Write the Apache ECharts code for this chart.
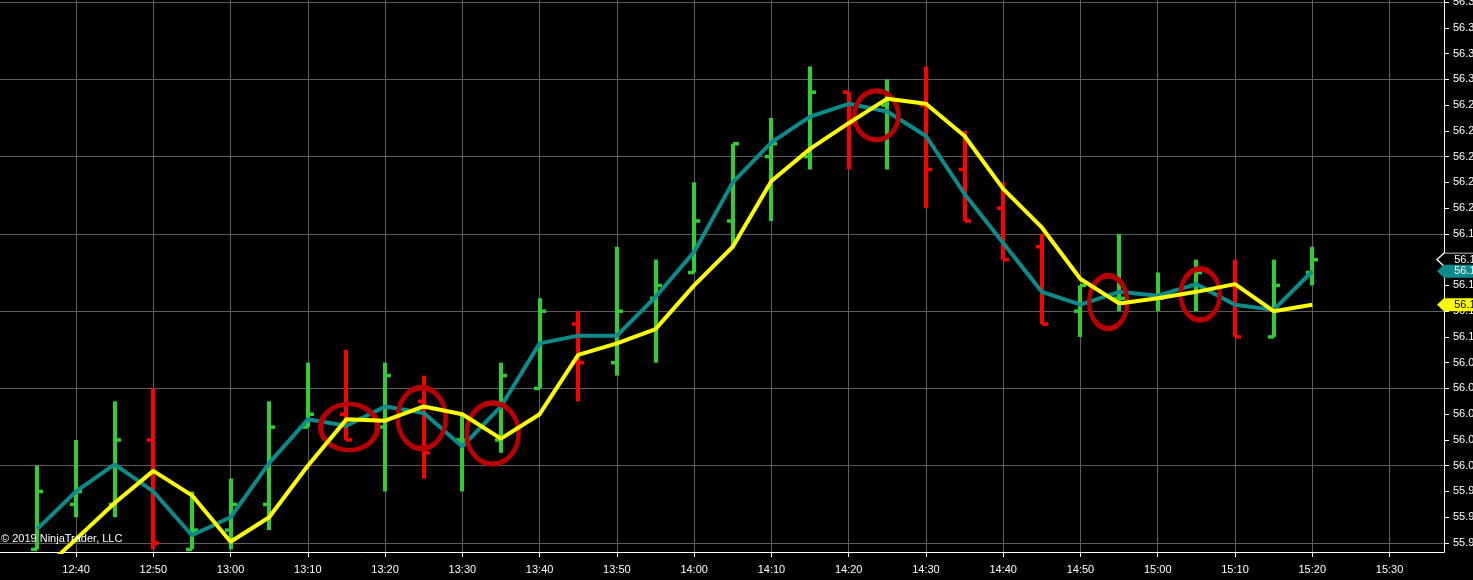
<!DOCTYPE html>
<html>
<head>
<meta charset="utf-8">
<style>
html,body{margin:0;padding:0;background:#000;}
#chart{width:1473px;height:580px;}
</style>
<script src="https://cdn.jsdelivr.net/npm/echarts@6/dist/echarts.min.js"></script>
</head>
<body>
<div id="chart"></div>
<script>
// ---- data ----
const times  = ['12:35','12:40','12:45','12:50','12:55','13:00','13:05','13:10','13:15','13:20','13:25','13:30','13:35','13:40','13:45','13:50','13:55','14:00','14:05','14:10','14:15','14:20','14:25','14:30','14:35','14:40','14:45','14:50','14:55','15:00','15:05','15:10','15:15','15:20'];
const opens  = [55.935,55.97,55.97,56.02,55.935,55.95,55.97,56.03,56.04,56.03,56.05,56.02,56.02,56.06,56.11,56.08,56.13,56.15,56.19,56.24,56.24,56.29,56.28,56.28,56.23,56.20,56.17,56.12,56.13,56.13,56.14,56.14,56.10,56.15];
const highs  = [56.00,56.02,56.05,56.06,55.98,55.99,56.05,56.08,56.09,56.08,56.07,56.04,56.08,56.13,56.12,56.17,56.16,56.22,56.25,56.27,56.31,56.29,56.30,56.31,56.26,56.22,56.18,56.14,56.18,56.15,56.16,56.16,56.16,56.17];
const lows   = [55.935,55.96,55.96,55.935,55.935,55.935,55.95,56.03,56.02,55.98,55.99,55.98,56.01,56.06,56.05,56.07,56.08,56.15,56.17,56.19,56.23,56.23,56.23,56.20,56.19,56.16,56.11,56.10,56.12,56.12,56.12,56.10,56.10,56.14];
const closes = [55.98,55.98,56.02,55.94,55.95,55.97,56.03,56.04,56.02,56.07,56.01,56.02,56.07,56.12,56.08,56.12,56.14,56.19,56.25,56.25,56.29,56.266,56.285,56.23,56.19,56.16,56.11,56.14,56.13,56.13,56.15,56.10,56.14,56.16];
const tealLine   = [55.951,55.980,56.001,55.980,55.946,55.960,56.002,56.036,56.031,56.046,56.041,56.015,56.046,56.095,56.101,56.101,56.131,56.166,56.220,56.251,56.271,56.281,56.275,56.256,56.211,56.173,56.135,56.125,56.135,56.132,56.141,56.125,56.121,56.151];
const yellowLine = [55.915,55.943,55.971,55.996,55.977,55.941,55.960,56.000,56.036,56.035,56.046,56.040,56.021,56.040,56.086,56.095,56.106,56.140,56.170,56.221,56.246,56.266,56.285,56.281,56.256,56.215,56.185,56.145,56.126,56.130,56.135,56.141,56.120,56.125];
const xTickLabels = ['12:40','12:50','13:00','13:10','13:20','13:30','13:40','13:50','14:00','14:10','14:20','14:30','14:40','14:50','15:00','15:10','15:20','15:30'];
const yTickValues = [55.94,55.96,55.98,56.00,56.02,56.04,56.06,56.08,56.10,56.12,56.14,56.16,56.18,56.20,56.22,56.24,56.26,56.28,56.30,56.32,56.34,56.36];
const yGridValues = [55.94,56.00,56.06,56.12,56.18,56.24,56.30,56.36];
// annotation ellipses (centre time in minutes, centre price)
const annoX = [795.34,804.74,813.92,863.59,893.59,905.50];
const annoY = [56.030,56.037,56.025,56.272,56.127,56.133];
const annoSize = [[57,46],[48,61],[52,61],[44,49],[38,53],[39,51]];

// ---- helpers ----
function toMin(s){const p=s.split(':').map(Number);return p[0]*60+p[1];}
function fmt(m){const h=Math.floor(m/60),mm=Math.round(m-h*60);return h+':'+(mm<10?'0':'')+mm;}
const X_MIN = 750.16, X_MAX = 937.05;
const Y_MIN = 55.933, Y_MAX = 56.3616;
const GREEN = '#32cd32', RED = '#ff0000', TEAL = '#0a8c8c', YELLOW = '#ffff00';
const FONT = 'Arial, "Liberation Sans", sans-serif';

const ohlc = times.map((t,i)=>[toMin(t),opens[i],highs[i],lows[i],closes[i]]);
const tealData = times.map((t,i)=>[toMin(t),tealLine[i]]);
const yellowData = times.map((t,i)=>[toMin(t),yellowLine[i]]);
const xTickVals = xTickLabels.map(toMin);
const lastIdx = times.length-1;

const ellipsePath = 'path://M50,0 A50,50 0 1,1 50,100 A50,50 0 1,1 50,0 Z';
const tagPath = 'path://M0,6.5 L7,0 L40,0 L40,13 L7,13 Z';

const chart = echarts.init(document.getElementById('chart'), null, {renderer:'canvas'});
chart.setOption({
  backgroundColor:'#000',
  animation:false,
  grid:{left:0,right:29,top:0,bottom:28,containLabel:false,outerBoundsMode:'none'},
  xAxis:{
    type:'value',min:X_MIN,max:X_MAX,
    axisLine:{show:true,onZero:false,lineStyle:{color:'#ffffff',width:1}},
    axisTick:{show:true,length:5,customValues:xTickVals,lineStyle:{color:'#ffffff'}},
    axisLabel:{show:true,customValues:xTickVals,formatter:v=>fmt(v),color:'#ffffff',fontSize:11,fontFamily:FONT,margin:12},
    splitLine:{show:true,lineStyle:{color:'#5e5e5e',width:1}}
  },
  yAxis:[{
    type:'value',position:'right',min:Y_MIN,max:Y_MAX,scale:true,
    axisLine:{show:true,lineStyle:{color:'#ffffff',width:1}},
    axisTick:{show:true,length:5,customValues:yTickValues,lineStyle:{color:'#ffffff'}},
    axisLabel:{show:true,customValues:yTickValues,formatter:v=>v.toFixed(2),color:'#ffffff',fontSize:11,fontFamily:FONT,margin:9},
    splitLine:{show:false}
  },{
    type:'value',position:'right',min:Y_MIN,max:Y_MAX,scale:true,
    axisLine:{show:false},
    axisTick:{show:false,customValues:yGridValues},
    axisLabel:{show:false,customValues:yGridValues},
    splitLine:{show:true,lineStyle:{color:'#5e5e5e',width:1}}
  }],
  series:[{
    type:'custom',
    name:'bars',
    data:ohlc,
    encode:{x:0,y:[1,2,3,4]},
    z:3,
    renderItem:function(params,api){
      const t=api.value(0),o=api.value(1),h=api.value(2),l=api.value(3),c=api.value(4);
      const pH=api.coord([t,h]),pL=api.coord([t,l]),pO=api.coord([t,o]),pC=api.coord([t,c]);
      const col = c>=o?GREEN:RED;
      const x = Math.round(pH[0]);
      return {type:'group',children:[
        {type:'line',shape:{x1:x,y1:pH[1],x2:x,y2:pL[1]},style:{stroke:col,lineWidth:4}},
        {type:'line',shape:{x1:x-6,y1:pO[1],x2:x,y2:pO[1]},style:{stroke:col,lineWidth:3.5}},
        {type:'line',shape:{x1:x,y1:pC[1],x2:x+6,y2:pC[1]},style:{stroke:col,lineWidth:3.5}}
      ]};
    },
    markPoint:{
      silent:true,
      symbol:tagPath,symbolKeepAspect:false,symbolSize:[40,13],symbolOffset:[13,0],
      data:[{coord:[X_MAX,closes[lastIdx]],value:closes[lastIdx].toFixed(2),
        itemStyle:{color:'#000',borderColor:'#ffffff',borderWidth:1},
        label:{show:true,position:'inside',offset:[11,0],color:'#ffffff',fontSize:11,fontFamily:FONT,formatter:'{c}'}}]
    }
  },{
    type:'line',name:'teal',data:tealData,showSymbol:false,symbol:'none',clip:true,z:4,
    lineStyle:{color:TEAL,width:4},
    markPoint:{
      silent:true,
      symbol:tagPath,symbolKeepAspect:false,symbolSize:[40,13],symbolOffset:[13,0],
      data:[{coord:[X_MAX,tealLine[lastIdx]],value:tealLine[lastIdx].toFixed(2),
        itemStyle:{color:TEAL,borderColor:TEAL,borderWidth:0},
        label:{show:true,position:'inside',offset:[11,0],color:'#ffffff',fontSize:11,fontFamily:FONT,formatter:'{c}'}}]
    }
  },{
    type:'line',name:'yellow',data:yellowData,showSymbol:false,symbol:'none',clip:true,z:5,
    lineStyle:{color:YELLOW,width:4},
    markPoint:{
      silent:true,
      data:[{coord:[X_MAX,yellowLine[lastIdx]],value:yellowLine[lastIdx].toFixed(2),
        symbol:tagPath,symbolKeepAspect:false,symbolSize:[40,13],symbolOffset:[13,0],
        itemStyle:{color:YELLOW,borderColor:YELLOW,borderWidth:0},
        label:{show:true,position:'inside',offset:[11,0],color:'#000000',fontSize:11,fontFamily:FONT,formatter:'{c}'}}]
      .concat(annoX.map((ax,i)=>({coord:[ax,annoY[i]],symbol:ellipsePath,symbolKeepAspect:false,symbolSize:annoSize[i],
        itemStyle:{color:'rgba(0,0,0,0)',borderColor:'#b80000',borderWidth:5},label:{show:false}})))
    }
  }],
  graphic:[{type:'text',left:1,top:533,z:100,style:{text:'© 2019 NinjaTrader, LLC',fill:'#ffffff',font:'11px '+FONT}}]
});
</script>
</body>
</html>
